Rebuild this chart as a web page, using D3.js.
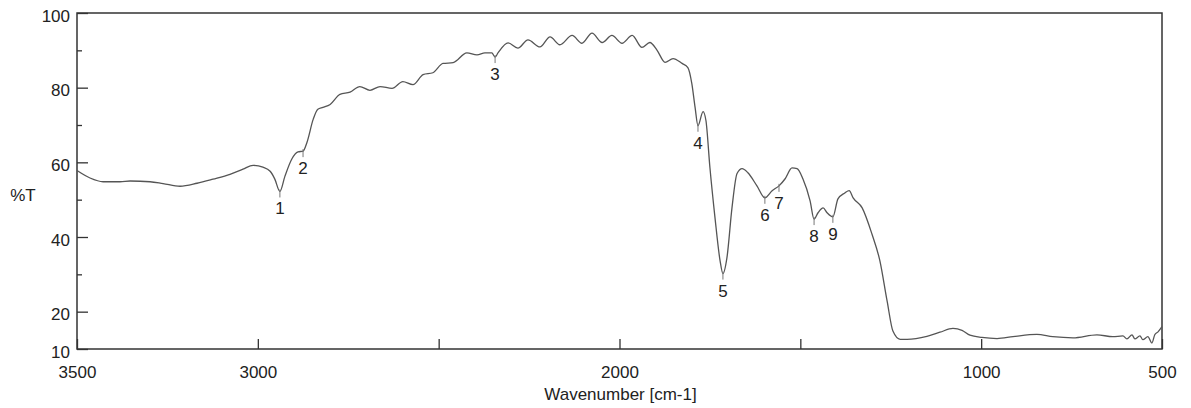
<!DOCTYPE html>
<html>
<head>
<meta charset="utf-8">
<title>IR spectrum</title>
<script src="https://cdn.jsdelivr.net/npm/d3@7"></script>
<style>
    body{
        margin:0;
        background:#fff;
        font-family:"Liberation Sans", Arial, helvetica, sans-serif;
    }
    .axis text{
        font-size:17px;
        fill:#222;
        font-family:"Liberation Sans", Arial, helvetica, sans-serif;
    }
    .axis line{
        stroke:#333;
        stroke-width:1.3;
    }
</style>
</head>
<body>
<div id="chart"></div>
<script>
// spectrum: wavenumber (cm-1) and %T
var wavenumber = [3500,3464,3428,3381,3353,3298,3262,3215,3168,3124,3077,3041,3013,2986,2966,2953,2939,2925,2906,2889,2875,2864,
    2847,2834,2820,2800,2773,2745,2718,2690,2662,2629,2599,2571,2543,2516,2488,2460,2422,2394,2372,2353,2344,2336,
    2308,2281,2253,2220,2192,2165,2131,2104,2076,2048,2021,1993,1965,1938,1916,1896,1874,1852,1827,1811,1800,1791,
    1783,1769,1761,1750,1736,1722,1714,1703,1689,1675,1661,1645,1620,1598,1578,1559,1542,1523,1509,1493,1473,1462,
    1451,1437,1426,1410,1396,1377,1365,1354,1329,1302,1280,1260,1244,1224,1205,1150,1114,1078,1053,1031,998,956,
    912,846,802,746,680,636,608,597,583,575,561,553,539,528,520,511,500]
var transmittance = [57.8,55.8,54.8,54.8,55.0,54.8,54.3,53.6,54.4,55.5,56.8,58.2,59.2,58.7,57.6,55.5,52.2,56.3,60.9,62.8,63.0,65.4,
    71.5,74.2,74.7,75.5,78.2,78.8,80.3,79.3,80.3,79.8,81.6,80.8,83.5,84.0,86.5,86.7,89.3,88.8,89.3,89.3,88.2,89.3,
    92.0,90.6,92.8,90.9,93.6,91.5,94.0,91.9,94.6,92.1,94.0,91.9,94.0,90.8,92.1,90.0,86.8,87.8,86.5,85.4,81.1,74.7,
    69.8,73.6,71.2,58.6,45.2,33.7,30.2,34.4,47.8,57.0,58.3,57.2,53.7,50.5,52.4,53.7,55.6,58.5,58.3,55.6,49.7,44.8,
    46.5,47.8,46.5,45.4,50.2,51.8,52.4,50.5,47.8,40.8,33.6,22.8,14.8,12.6,12.6,13.4,14.5,15.5,15.0,13.7,13.1,12.8,
    13.3,13.9,13.3,13.0,13.8,13.3,13.5,12.7,13.8,12.7,13.5,12.5,13.3,11.6,13.8,14.6,16.0]

// marked peaks
var peakLabels = ["1","2","3","4","5","6","7","8","9"]
var peakWn = [2939,2875,2344,1783,1714,1598,1559,1462,1410]
var peakT = [52.2,63.0,88.2,69.8,30.2,50.5,53.7,44.8,45.4]

var xTicks = [3500,3000,2500,2000,1500,1000,500]
var xTickLabels = ["3500","3000","","2000","","1000","500"]
var yMajor = [10,20,40,60,80,100]
var yMajorLabels = ["10","20","40","60","80","100"]
var yMinor = [30,50,70,90]

var w = 1191
var h = 408
var plotLeft = 77, plotRight = 1162, plotTop = 13, plotBottom = 349

var svg = d3.select("#chart").append("svg")
    .attr("width",w)
    .attr("height",h)

var xScale = d3.scaleLinear().domain([3500,500]).range([plotLeft,plotRight])
var yScale = d3.scaleLinear().domain([10,100]).range([plotBottom,plotTop])

// frame
svg.append("rect")
    .attr("x",plotLeft).attr("y",plotTop)
    .attr("width",plotRight-plotLeft).attr("height",plotBottom-plotTop)
    .attr("fill","none")
    .attr("stroke","#333")
    .attr("stroke-width",1.5)

var xAxis = d3.axisBottom(xScale)
    .tickValues(xTicks)
    .tickSize(-10)
    .tickPadding(17)
    .tickFormat(function(d,i){return xTickLabels[i]})

svg.append("g")
    .attr("class","x axis")
    .attr("transform","translate(0,"+plotBottom+")")
    .call(xAxis)
    .call(function(g){g.select(".domain").remove()})

var yAxis = d3.axisLeft(yScale)
    .tickValues(yMajor)
    .tickSize(-11)
    .tickPadding(7)
    .tickFormat(function(d,i){return yMajorLabels[i]})

svg.append("g")
    .attr("class","y axis")
    .attr("transform","translate("+plotLeft+",0)")
    .call(yAxis)
    .call(function(g){g.select(".domain").remove()})
    .selectAll("text").attr("dy","0.47em")

svg.append("g")
    .attr("class","y axis minor")
    .attr("transform","translate("+plotLeft+",0)")
    .call(d3.axisLeft(yScale).tickValues(yMinor).tickSize(-5).tickFormat(""))
    .call(function(g){g.select(".domain").remove()})

// axis titles
svg.append("text").text("Wavenumber [cm-1]")
    .attr("x",(plotLeft+plotRight)/2 + 1)
    .attr("y",400)
    .attr("text-anchor","middle")
    .attr("font-size","17px")
    .attr("fill","#222")

svg.append("text").text("%T")
    .attr("x",23)
    .attr("y",201)
    .attr("text-anchor","middle")
    .attr("font-size","17px")
    .attr("fill","#222")

// spectrum
var points = wavenumber.map(function(d,i){return [d,transmittance[i]]})
var line = d3.line()
    .x(function(d){return xScale(d[0])})
    .y(function(d){return yScale(d[1])})
    .curve(d3.curveMonotoneX)

svg.append("path")
    .datum(points)
    .attr("d",line)
    .attr("fill","none")
    .attr("stroke","#555")
    .attr("stroke-width",1.3)

// peak markers
var peaks = svg.selectAll(".peak")
    .data(peakLabels)
    .enter()
    .append("g")
    .attr("class","peak")
    .attr("transform",function(d,i){return "translate("+xScale(peakWn[i])+","+yScale(peakT[i])+")"})

peaks.append("line")
    .attr("x1",0).attr("x2",0)
    .attr("y1",-2).attr("y2",6)
    .attr("stroke","#777")
    .attr("stroke-width",1)

peaks.append("text")
    .text(function(d){return d})
    .attr("y",23)
    .attr("text-anchor","middle")
    .attr("font-size","17px")
    .attr("fill","#222")
</script>
</body>
</html>
